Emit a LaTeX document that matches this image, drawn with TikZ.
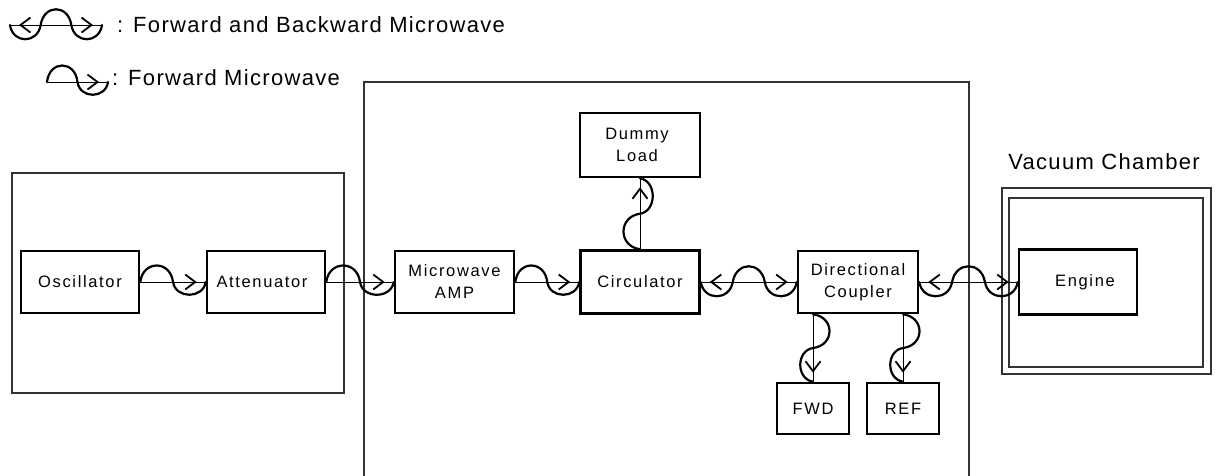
\documentclass[tikz,border=0pt]{standalone}
\usepackage{fontspec}
\setmainfont{Liberation Sans}
\newfontfamily\boxfont[LetterSpace=10]{Liberation Sans}
\newfontfamily\legfont[LetterSpace=6]{Liberation Sans}
\usetikzlibrary{calc,arrows.meta,decorations.markings}
\tikzset{
  blk/.style={draw, line width=2.6pt, minimum width=118pt, minimum height=62pt, inner sep=0pt,
    align=center, font=\boxfont\fontsize{16.5}{22}\selectfont},
  legtext/.style={inner sep=0pt, font=\legfont\fontsize{22}{26}\selectfont},
  frame/.style={draw=black!80, line width=1.2pt},
  conn/.style={line width=1pt},
  wave/.style={line width=2.2pt, line join=round, line cap=round},
  fwdtip/.style={postaction={decorate}, decoration={markings,
    mark=at position -9pt with {\arrow{Straight Barb[length=10pt,width=15pt,line width=1.8pt]}}}},
  bidtip/.style={postaction={decorate}, decoration={markings,
    mark=at position 9pt with {\arrowreversed{Straight Barb[length=10pt,width=15pt,line width=1.8pt]}},
    mark=at position -9pt with {\arrow{Straight Barb[length=10pt,width=15pt,line width=1.8pt]}}}},
}
\newcommand\fwdwave[2]{%
  \draw[conn,fwdtip] (#1) -- (#2);
  \draw[wave] (#1) .. controls ($(#1)!0.04!(#2)!22pt!90:(#2)$) and ($(#1)!0.46!(#2)!22pt!90:(#2)$) .. ($(#1)!0.5!(#2)$)
    .. controls ($(#1)!0.54!(#2)!17pt!-90:(#2)$) and ($(#1)!0.96!(#2)!17pt!-90:(#2)$) .. (#2);
}
\newcommand\bidwave[2]{%
  \draw[conn,bidtip] (#1) -- (#2);
  \draw[wave] (#1) .. controls ($(#1)!0.03!(#2)!19pt!-90:(#2)$) and ($(#1)!0.30!(#2)!19pt!-90:(#2)$) .. ($(#1)!0.333!(#2)$)
    .. controls ($(#1)!0.37!(#2)!21pt!90:(#2)$) and ($(#1)!0.63!(#2)!21pt!90:(#2)$) .. ($(#1)!0.667!(#2)$)
    .. controls ($(#1)!0.70!(#2)!19pt!-90:(#2)$) and ($(#1)!0.97!(#2)!19pt!-90:(#2)$) .. (#2);
}
\begin{document}
\begin{tikzpicture}[x=1pt,y=-1pt]
\useasboundingbox (0,0) rectangle (1220,475);
% frames
\draw[frame] (12,173) rectangle (344,393);
\draw[frame] (364,476) -- (364,82) -- (969,82) -- (969,476);
\draw[frame] (1002,188) rectangle (1211,374);
\draw[frame] (1009,198) rectangle (1203,367);
% blocks
\node[blk] (osc) at (80,282) {Oscillator};
\node[blk] (att) at (266,282) {\hspace*{-8pt}Attenuator};
\node[blk, minimum width=119pt] (amp) at (454.5,282) {Microwave\\AMP};
\node[blk, minimum width=120pt, minimum height=64pt] (dummy) at (640,145) {\hspace*{-6pt}Dummy\\\hspace*{-6pt}Load};
\node[blk, minimum width=119pt, minimum height=63pt] (circ) at (640,282) {Circulator};
\node[blk, minimum width=120pt] (dc) at (858,282) {Directional\\Coupler};
\node[blk, minimum width=72pt, minimum height=51pt] (fwd) at (813,408.5) {FWD};
\node[blk, minimum width=72pt, minimum height=51pt] (ref) at (903,408.5) {REF};
\node[blk, minimum height=65pt] (eng) at (1078,282) {\hspace*{14pt}Engine};
\node[legtext, anchor=base] (vclabel) at (1104,169) {Vacuum Chamber};
% connectors
\fwdwave{osc.east}{att.west}
\fwdwave{att.east}{amp.west}
\fwdwave{amp.east}{circ.west}
\fwdwave{circ.north}{dummy.south}
\bidwave{circ.east}{dc.west}
\bidwave{dc.east}{eng.west}
\coordinate (dcf) at (dc.south -| fwd.north);
\coordinate (dcr) at (dc.south -| ref.north);
\fwdwave{dcf}{fwd.north}
\fwdwave{dcr}{ref.north}
% legend
\coordinate (l1a) at (10,25);
\coordinate (l1b) at (102,25);
\bidwave{l1a}{l1b}
\node[legtext, anchor=base west] (leg1) at (117,32) {: Forward and Backward Microwave};
\coordinate (l2a) at (47,82);
\coordinate (l2b) at (108,82);
\fwdwave{l2a}{l2b}
\node[legtext, anchor=base west] (leg2) at (112,85) {: Forward Microwave};
\end{tikzpicture}
\end{document}
